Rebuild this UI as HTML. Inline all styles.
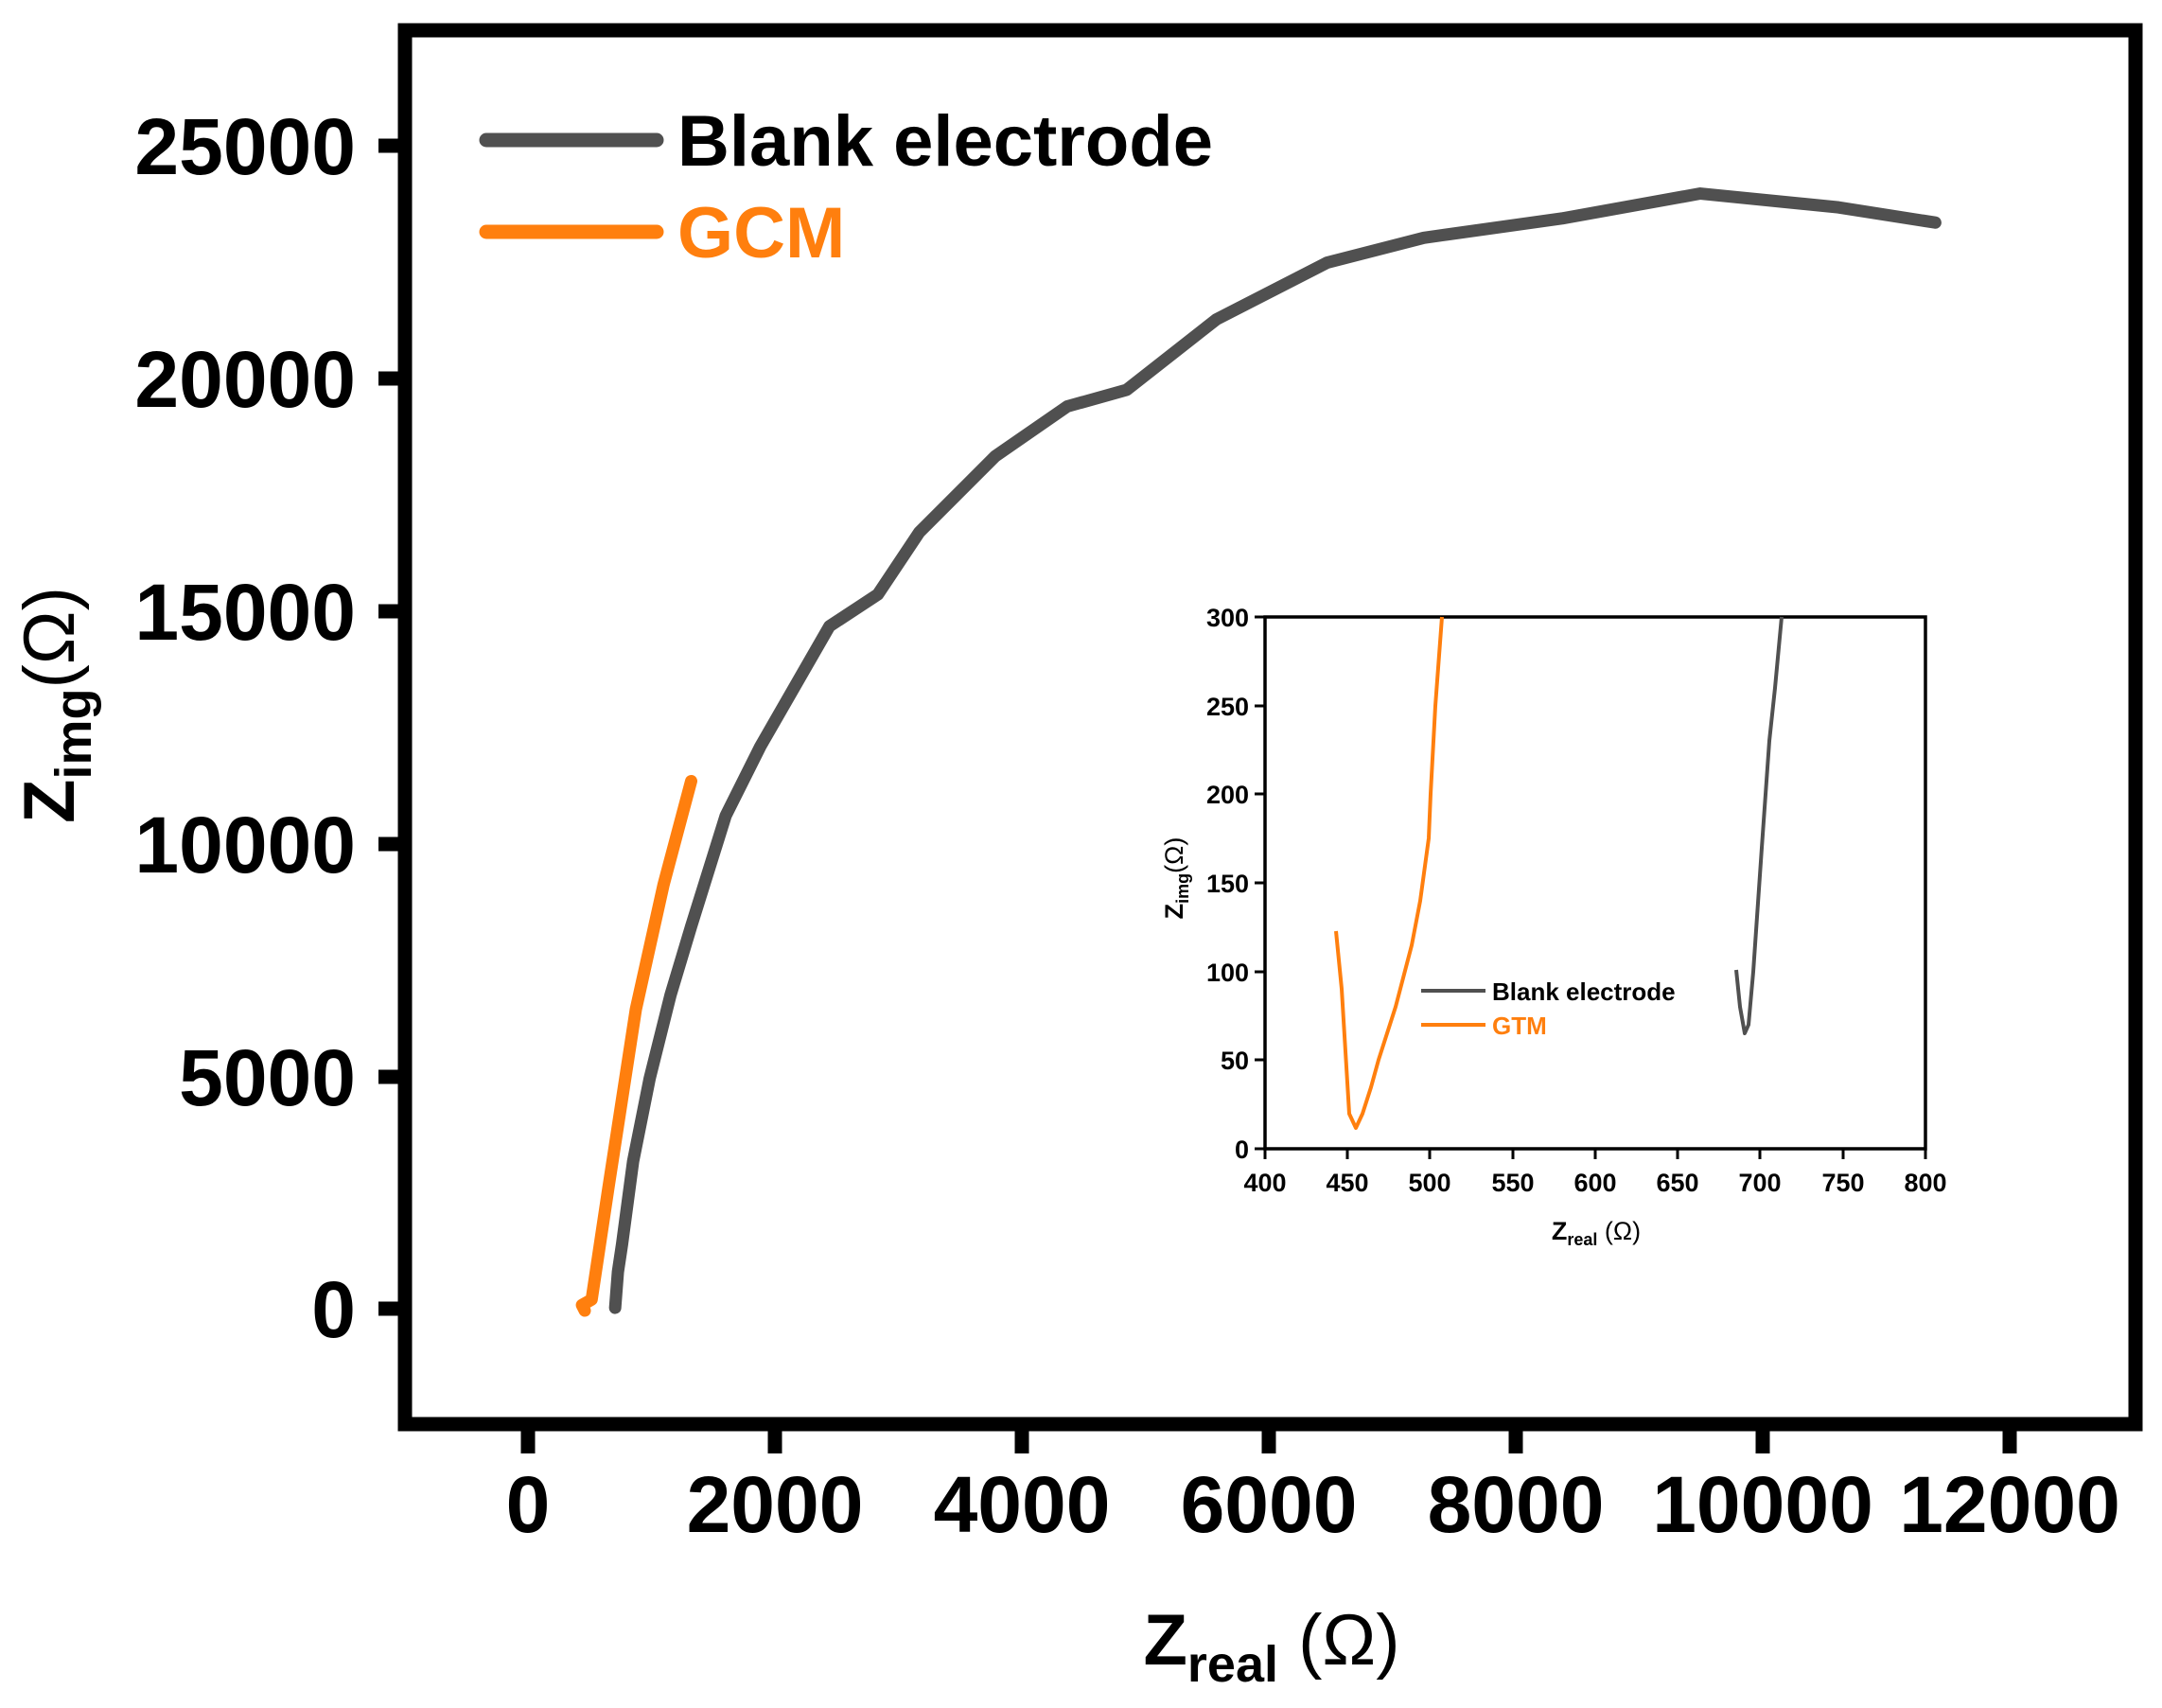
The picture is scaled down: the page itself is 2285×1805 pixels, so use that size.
<!DOCTYPE html>
<html><head><meta charset="utf-8"><style>
html,body{margin:0;padding:0;background:#fff;}
svg{display:block;}
text{font-family:"Liberation Sans",sans-serif;font-weight:bold;}
</style></head><body>
<svg width="2285" height="1805" viewBox="0 0 2285 1805" xmlns="http://www.w3.org/2000/svg">
<rect x="428" y="32" width="1829" height="1473" fill="none" stroke="#000" stroke-width="15"/>
<g stroke="#000" stroke-width="15">
<line x1="400" y1="154" x2="428" y2="154"/><line x1="400" y1="400" x2="428" y2="400"/>
<line x1="400" y1="646" x2="428" y2="646"/><line x1="400" y1="892" x2="428" y2="892"/>
<line x1="400" y1="1138" x2="428" y2="1138"/><line x1="400" y1="1383" x2="428" y2="1383"/>
<line x1="558" y1="1505" x2="558" y2="1536"/><line x1="819" y1="1505" x2="819" y2="1536"/>
<line x1="1080" y1="1505" x2="1080" y2="1536"/><line x1="1341" y1="1505" x2="1341" y2="1536"/>
<line x1="1602" y1="1505" x2="1602" y2="1536"/><line x1="1863" y1="1505" x2="1863" y2="1536"/>
<line x1="2124" y1="1505" x2="2124" y2="1536"/>
</g>
<g font-size="84" text-anchor="end">
<text x="376" y="184">25000</text><text x="376" y="430">20000</text>
<text x="376" y="676">15000</text><text x="376" y="922">10000</text>
<text x="376" y="1168">5000</text><text x="376" y="1413">0</text>
</g>
<g font-size="84" text-anchor="middle">
<text x="558" y="1619">0</text><text x="819" y="1619">2000</text><text x="1080" y="1619">4000</text>
<text x="1341" y="1619">6000</text><text x="1602" y="1619">8000</text><text x="1863" y="1619">10000</text>
<text x="2124" y="1619">12000</text>
</g>
<text x="1344" y="1759" font-size="76" text-anchor="middle">Z<tspan font-size="54" dy="18">real</tspan><tspan dy="-18" font-weight="normal"> (Ω)</tspan></text>
<text transform="translate(78,745) rotate(-90)" font-size="76" text-anchor="middle">Z<tspan font-size="54" dy="18">img</tspan><tspan dy="-18" font-weight="normal">(Ω)</tspan></text>
<g stroke-linecap="round" stroke-width="15">
<line x1="514" y1="148" x2="694" y2="148" stroke="#505050"/>
<line x1="514" y1="245" x2="694" y2="245" stroke="#ff7f0e"/>
</g>
<text x="716" y="175" font-size="76">Blank electrode</text>
<text x="716" y="272" font-size="76" fill="#ff7f0e">GCM</text>
<g transform="scale(1.461)" fill="none" stroke-linecap="round" stroke-linejoin="round">
<polyline vector-effect="non-scaling-stroke" stroke="#505050" stroke-width="13" points="445,946 447,920 450,900 458,840 470,780 485,720 500,670 525,590 550,540 600,453 635,430 665,385 720,330 772,294 815,282 880,231 960,190 1030,172 1130,158 1230,140 1330,150 1400,161"/>
<polyline vector-effect="non-scaling-stroke" stroke="#ff7f0e" stroke-width="13" points="423,948 421,944 428,940 440,860 460,730 480,640 500,565"/>
</g>
<rect x="1337" y="652" width="698" height="562" fill="none" stroke="#000" stroke-width="3.5"/>
<g stroke="#000" stroke-width="3">
<line x1="1326" y1="652" x2="1337" y2="652"/><line x1="1326" y1="746" x2="1337" y2="746"/>
<line x1="1326" y1="839" x2="1337" y2="839"/><line x1="1326" y1="933" x2="1337" y2="933"/>
<line x1="1326" y1="1027" x2="1337" y2="1027"/><line x1="1326" y1="1120" x2="1337" y2="1120"/>
<line x1="1326" y1="1214" x2="1337" y2="1214"/>
<line x1="1337" y1="1214" x2="1337" y2="1225"/><line x1="1424" y1="1214" x2="1424" y2="1225"/>
<line x1="1511" y1="1214" x2="1511" y2="1225"/><line x1="1599" y1="1214" x2="1599" y2="1225"/>
<line x1="1686" y1="1214" x2="1686" y2="1225"/><line x1="1773" y1="1214" x2="1773" y2="1225"/>
<line x1="1860" y1="1214" x2="1860" y2="1225"/><line x1="1948" y1="1214" x2="1948" y2="1225"/>
<line x1="2035" y1="1214" x2="2035" y2="1225"/>
</g>
<g font-size="27" text-anchor="end">
<text x="1320" y="662">300</text><text x="1320" y="756">250</text><text x="1320" y="849">200</text>
<text x="1320" y="943">150</text><text x="1320" y="1037">100</text><text x="1320" y="1130">50</text>
<text x="1320" y="1224">0</text>
</g>
<g font-size="27" text-anchor="middle">
<text x="1337" y="1259">400</text><text x="1424" y="1259">450</text><text x="1511" y="1259">500</text>
<text x="1599" y="1259">550</text><text x="1686" y="1259">600</text><text x="1773" y="1259">650</text>
<text x="1860" y="1259">700</text><text x="1948" y="1259">750</text><text x="2035" y="1259">800</text>
</g>
<text x="1687" y="1310" font-size="27" text-anchor="middle">Z<tspan font-size="18" dy="6">real</tspan><tspan dy="-6" font-weight="normal"> (Ω)</tspan></text>
<text transform="translate(1250,928) rotate(-90)" font-size="27" text-anchor="middle">Z<tspan font-size="18" dy="6">img</tspan><tspan dy="-6" font-weight="normal">(Ω)</tspan></text>
<g fill="none" stroke-linejoin="round" stroke-width="4">
<polyline stroke="#ff7f0e" points="1412,984 1418,1045 1426,1177 1433,1192 1440,1177 1449,1149 1457,1120 1475,1064 1492,999 1501,952 1510,886 1512,839 1517,746 1524,652"/>
<polyline stroke="#505050" points="1835,1025 1839,1064 1844,1092 1848,1083 1853,1027 1862,896 1870,783 1876,727 1883,652"/>
</g>
<line x1="1502" y1="1047" x2="1570" y2="1047" stroke="#505050" stroke-width="4"/>
<line x1="1502" y1="1083" x2="1570" y2="1083" stroke="#ff7f0e" stroke-width="4"/>
<text x="1577" y="1057" font-size="26">Blank electrode</text>
<text x="1577" y="1093" font-size="26" fill="#ff7f0e">GTM</text>
</svg>
</body></html>
